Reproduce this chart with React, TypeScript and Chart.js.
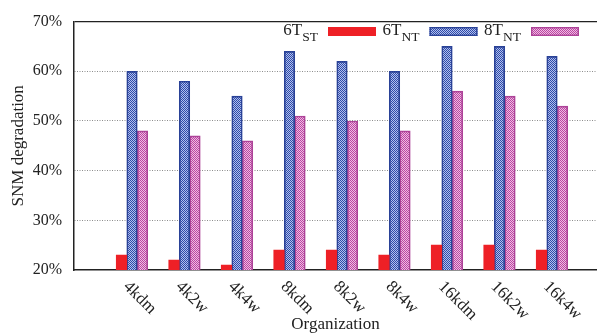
import React, { useEffect, useRef } from 'react';
import { Chart, registerables } from 'chart.js';

Chart.register(...registerables);

const categories = ['4kdm', '4k2w', '4k4w', '8kdm', '8k2w', '8k4w', '16kdm', '16k2w', '16k4w'];
const st6 = [23, 22, 21, 24, 24, 23, 25, 25, 24];
const nt6 = [60, 58, 55, 64, 62, 60, 65, 65, 63];
const nt8 = [48, 47, 46, 51, 50, 48, 56, 55, 53];
const yTicks = [20, 30, 40, 50, 60, 70];
const legendMain = ['6T', '6T', '8T'];
const legendSub = ['ST', 'NT', 'NT'];

const SERIF = "'Liberation Serif', 'Times New Roman', serif";
const TEXT = '#222';

function makeChecker(ctx: CanvasRenderingContext2D, dark: string, light: string) {
  const c = document.createElement('canvas');
  c.width = 2;
  c.height = 2;
  const g = c.getContext('2d')!;
  g.fillStyle = light;
  g.fillRect(0, 0, 2, 2);
  g.fillStyle = dark;
  g.fillRect(0, 0, 1, 1);
  g.fillRect(1, 1, 1, 1);
  return ctx.createPattern(c, 'repeat') as CanvasPattern;
}

export default function App() {
  const ref = useRef<HTMLCanvasElement | null>(null);

  useEffect(() => {
    document.body.style.margin = '0';
    const canvas = ref.current!;
    const ctx = canvas.getContext('2d')!;
    const bluePat = makeChecker(ctx, '#2d4aaa', '#b3c0ec');
    const pinkPat = makeChecker(ctx, '#bb44a2', '#efbde2');
    const red = '#ee2026';
    const blueBorder = '#2a4297';
    const pinkBorder = '#ad4398';

    const fills = [red, bluePat, pinkPat];
    const borders = [red, blueBorder, pinkBorder];

    const overlay = {
      id: 'overlay',
      afterDraw(chart: any) {
        const c = chart.ctx as CanvasRenderingContext2D;
        const area = chart.chartArea;
        const xs = chart.scales.x;
        // x tick labels rotated clockwise
        c.save();
        c.font = `17px ${SERIF}`;
        c.fillStyle = TEXT;
        c.textAlign = 'left';
        c.textBaseline = 'middle';
        categories.forEach((cat, i) => {
          const px = xs.getPixelForValue(i);
          c.save();
          c.translate(px - 6, area.bottom + 14);
          c.rotate(Math.PI / 4);
          c.fillText(cat, 0, 0);
          c.restore();
        });
        c.restore();

        // legend (gnuplot style: text then sample)
        c.save();
        const step = 101.5;
        for (let i = 0; i < 3; i++) {
          const sampleRight = area.right - 18 - (2 - i) * step;
          const sampleLeft = sampleRight - 48;
          const top = 27;
          const h = 9;
          c.fillStyle = fills[i] as any;
          c.fillRect(sampleLeft, top, 48, h);
          if (i > 0) {
            c.strokeStyle = borders[i];
            c.lineWidth = 1.4;
            c.strokeRect(sampleLeft + 0.7, top + 0.7, 48 - 1.4, h - 1.4);
          }
          const textRight = sampleLeft - 10;
          c.fillStyle = TEXT;
          c.textAlign = 'left';
          c.textBaseline = 'alphabetic';
          c.font = `13.5px ${SERIF}`;
          const ws = c.measureText(legendSub[i]).width;
          c.fillText(legendSub[i], textRight - ws, 40.5);
          c.font = `17px ${SERIF}`;
          const wm = c.measureText(legendMain[i]).width;
          c.fillText(legendMain[i], textRight - ws - wm, 34.5);
        }
        c.restore();
      },
    };

    const chart = new Chart(canvas, {
      type: 'bar',
      data: {
        datasets: [
          {
            label: '6T_ST',
            data: st6.map((v, i) => ({ x: i, y: v })),
            backgroundColor: red,
            borderWidth: 0,
          },
          {
            label: '6T_NT',
            data: nt6.map((v, i) => ({ x: i, y: v })),
            backgroundColor: bluePat,
            borderColor: blueBorder,
            borderWidth: 1.7,
            borderSkipped: false,
          },
          {
            label: '8T_NT',
            data: nt8.map((v, i) => ({ x: i, y: v })),
            backgroundColor: pinkPat,
            borderColor: pinkBorder,
            borderWidth: 1.7,
            borderSkipped: false,
          },
        ] as any,
      },
      options: {
        responsive: false,
        animation: false,
        layout: { padding: { top: 18, right: 0, left: 0, bottom: 0 } },
        plugins: { legend: { display: false }, tooltip: { enabled: false } },
        datasets: { bar: { barThickness: 10.5 } } as any,
        scales: {
          x: {
            type: 'linear',
            min: -1.105,
            max: 8.857,
            offset: false,
            grid: { display: false },
            ticks: { display: false },
            border: { display: true, color: TEXT, width: 1.5 },
            title: {
              display: true,
              text: 'Organization',
              font: { family: SERIF, size: 17, lineHeight: 1 },
              color: TEXT,
              padding: { top: 0, bottom: 0 },
            },
            afterFit: (s: any) => {
              s.height = 63;
            },
          },
          y: {
            min: 20,
            max: 70,
            afterBuildTicks: (s: any) => {
              s.ticks = yTicks.map((v) => ({ value: v }));
            },
            ticks: {
              callback: (v: any) => v + '%',
              font: { family: SERIF, size: 16 },
              color: TEXT,
              padding: 12,
            },
            grid: {
              drawTicks: false,
              color: (c: any) => {
                const v = c.tick?.value;
                if (v === 20) return 'rgba(0,0,0,0)';
                if (v === 70) return TEXT;
                return '#8c8c8c';
              },
              lineWidth: (c: any) => (c.tick?.value === 70 ? 1.3 : 1),
            },
            border: {
              display: true,
              color: TEXT,
              width: 1.5,
              dash: (c: any) => (c.tick && c.tick.value !== 70 ? [1, 1.5] : []),
            } as any,
            title: {
              display: true,
              text: 'SNM degradation',
              font: { family: SERIF, size: 17 },
              color: TEXT,
              padding: { top: 8, bottom: 0 },
            },
            afterFit: (s: any) => {
              s.width = 74;
            },
          },
        },
      } as any,
      plugins: [overlay],
    });

    return () => chart.destroy();
  }, []);

  return (
    <div style={{ width: 597, height: 333 }}>
      <canvas ref={ref} width={597} height={333} style={{ display: 'block' }} />
    </div>
  );
}
